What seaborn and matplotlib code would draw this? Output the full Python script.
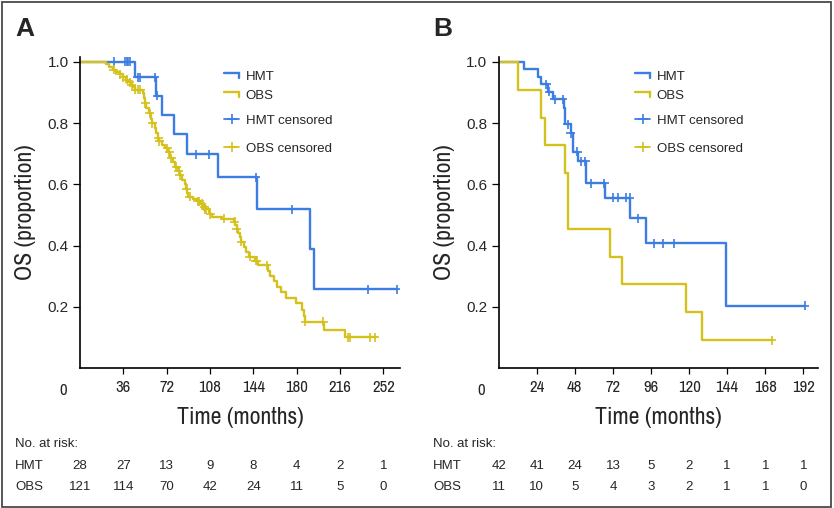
import numpy as np
import pandas as pd
import matplotlib
matplotlib.use("Agg")
import matplotlib.pyplot as plt
import seaborn as sns
from matplotlib import font_manager as fm
from matplotlib.lines import Line2D
from matplotlib.legend_handler import HandlerBase
from matplotlib.patches import Rectangle
from matplotlib.transforms import blended_transform_factory

# ----------------------------
# Data
# ----------------------------

# Panel A - Kaplan-Meier steps (time in months, survival after the drop)
a_hmt_time = [0, 46, 63, 68, 78, 89, 115, 147, 191, 194, 263]
a_hmt_surv = [1.0, 0.95, 0.89, 0.827, 0.764, 0.699, 0.623, 0.519, 0.39, 0.258, 0.258]
a_hmt_cens = [28, 37, 39, 40, 41.5, 48, 50, 62, 64, 96, 107, 146, 176, 239, 263]

a_obs_time = [0, 22, 24, 27, 30, 33, 36, 38, 40, 42, 44, 46, 52, 53, 54, 55, 57, 59,
              60, 62, 63, 65, 66, 68, 71, 73, 75, 77, 79, 81, 83, 85, 87, 88, 89, 90,
              94, 97, 100, 102, 104, 107, 108, 110, 118, 128, 129, 130, 131, 133, 134,
              136, 138, 140, 145, 148, 156, 158, 161, 164, 167, 171, 179, 184, 186,
              187, 203, 220, 246]
a_obs_surv = [1.0, 0.992, 0.984, 0.975, 0.967, 0.959, 0.95, 0.942, 0.934, 0.925, 0.917,
              0.909, 0.9, 0.882, 0.865, 0.848, 0.832, 0.815, 0.8, 0.785, 0.769, 0.753,
              0.74, 0.728, 0.718, 0.705, 0.685, 0.672, 0.658, 0.645, 0.63, 0.615, 0.6,
              0.585, 0.572, 0.56, 0.552, 0.544, 0.536, 0.527, 0.519, 0.511, 0.503,
              0.494, 0.487, 0.478, 0.468, 0.455, 0.442, 0.428, 0.413, 0.396, 0.38,
              0.364, 0.35, 0.335, 0.318, 0.3, 0.284, 0.266, 0.248, 0.228, 0.211, 0.19,
              0.17, 0.151, 0.124, 0.1, 0.1]
a_obs_cens = [28, 33, 36, 39, 41.5, 43, 46, 48, 50, 54, 58, 60, 65, 66, 72.5, 74, 76,
              80, 82, 83, 88.5, 91, 98, 99, 101, 103, 104, 105, 108, 120, 128.5, 130,
              134, 141, 146, 147, 155, 187, 202, 223, 224, 241, 245]

# Panel B
b_hmt_time = [0, 16, 25, 27, 31, 34, 41, 42, 45.5, 47, 50, 55, 67, 83, 93, 143, 193]
b_hmt_surv = [1.0, 0.976, 0.951, 0.927, 0.903, 0.878, 0.851, 0.797, 0.767, 0.707,
              0.676, 0.603, 0.557, 0.489, 0.407, 0.204, 0.204]
b_hmt_cens = [30, 32, 35.5, 40.5, 43.5, 45.5, 49.5, 52, 54.5, 58.5, 66.5, 72, 75, 80,
              82.5, 88, 98, 103.5, 110.5, 193]

b_obs_time = [0, 12, 27, 29, 42, 44, 70, 78, 118, 128, 172]
b_obs_surv = [1.0, 0.909, 0.818, 0.727, 0.636, 0.455, 0.364, 0.273, 0.182, 0.091, 0.091]
b_obs_cens = [172]

# Axis ticks
a_xticks = [36, 72, 108, 144, 180, 216, 252]
b_xticks = [24, 48, 72, 96, 120, 144, 168, 192]
yticks = [0.2, 0.4, 0.6, 0.8, 1.0]

# Number at risk tables
a_risk_time = [0, 36, 72, 108, 144, 180, 216, 252]
a_risk_hmt = [28, 27, 13, 9, 8, 4, 2, 1]
a_risk_obs = [121, 114, 70, 42, 24, 11, 5, 0]

b_risk_time = [0, 24, 48, 72, 96, 120, 144, 168, 192]
b_risk_hmt = [42, 41, 24, 13, 5, 2, 1, 1, 1]
b_risk_obs = [11, 10, 5, 4, 3, 2, 1, 1, 0]

BLUE = "#3b7de3"
YELLOW = "#d5c11c"
palette = {"HMT": BLUE, "OBS": YELLOW}

# ----------------------------
# Style / fonts
# ----------------------------

sns.set_style("ticks")
plt.rcParams["font.family"] = ["Liberation Sans", "DejaVu Sans"]


def pick_narrow():
    # the reference uses a condensed face for axis titles and x ticks
    found = []
    for f in fm.fontManager.ttflist:
        if f.style != "normal" or f.weight not in (400, "normal", "regular", "book"):
            continue
        if "Narrow" in f.name:
            found.append((0, f.fname))
        elif f.stretch in ("condensed", "semi-condensed", "extra-condensed"):
            found.append((1, f.fname))
    if found:
        return fm.FontProperties(fname=sorted(found)[0][1])
    return fm.FontProperties(family="Roboto")


NARROW = pick_narrow()


def narrow(size):
    fp = NARROW.copy()
    fp.set_size(size)
    return fp


class StepHandler(HandlerBase):
    # legend key drawn as a little step
    def create_artists(self, legend, orig_handle, xdescent, ydescent,
                       width, height, fontsize, trans):
        x0, y0 = -xdescent, -ydescent
        xs = [x0, x0 + width, x0 + width]
        ys = [y0 + height * 0.75, y0 + height * 0.75, y0 + height * 0.25]
        ln = Line2D(xs, ys, color=orig_handle.get_color(),
                    lw=orig_handle.get_linewidth(), solid_joinstyle="miter")
        ln.set_transform(trans)
        return [ln]


def steps_df(t, s, arm):
    return pd.DataFrame({"time": t, "surv": s, "arm": arm})


def cens_df(t, s, cens, arm):
    t = np.asarray(t)
    s = np.asarray(s)
    idx = np.searchsorted(t, cens, side="right") - 1
    return pd.DataFrame({"time": cens, "surv": s[idx], "arm": arm})


fig = plt.figure(figsize=(8.34, 5.08), dpi=100)
renderer = fig.canvas.get_renderer()


def fit_size(text, target_px, base=12.0):
    # font size that gives the reference's text width with the chosen face
    t = fig.text(0, 0, text, fontproperties=narrow(base))
    w = t.get_window_extent(renderer).width
    t.remove()
    return base * target_px / w


TITLE_SIZE = fit_size("Time (months)", 126.7)
TICK_SIZE = fit_size("108", 23.0)

W, H = 834.0, 508.0
panels = [
    dict(left=80.0, right=400.0, letter="A", lx=15.0,
         hmt=(a_hmt_time, a_hmt_surv, a_hmt_cens),
         obs=(a_obs_time, a_obs_surv, a_obs_cens),
         xticks=a_xticks, xmax=265.8,
         risk=(a_risk_time, a_risk_hmt, a_risk_obs), leg_x=224.0),
    dict(left=498.6, right=818.3, letter="B", lx=433.0,
         hmt=(b_hmt_time, b_hmt_surv, b_hmt_cens),
         obs=(b_obs_time, b_obs_surv, b_obs_cens),
         xticks=b_xticks, xmax=201.4,
         risk=(b_risk_time, b_risk_hmt, b_risk_obs), leg_x=635.0),
]

top_px, bot_px = 57.0, 368.0

for p in panels:
    ax = fig.add_axes([p["left"] / W, 1 - bot_px / H,
                       (p["right"] - p["left"]) / W, (bot_px - top_px) / H])

    curves = pd.concat([steps_df(p["hmt"][0], p["hmt"][1], "HMT"),
                        steps_df(p["obs"][0], p["obs"][1], "OBS")])
    marks = pd.concat([cens_df(*p["hmt"], "HMT"), cens_df(*p["obs"], "OBS")])

    sns.lineplot(data=curves, x="time", y="surv", hue="arm", palette=palette,
                 estimator=None, drawstyle="steps-post", linewidth=1.7,
                 legend=False, ax=ax)
    sns.scatterplot(data=marks, x="time", y="surv", hue="arm", palette=palette,
                    marker="+", s=42, linewidth=1.2, legend=False, ax=ax,
                    zorder=3)

    ax.set_xlim(0, p["xmax"])
    ax.set_ylim(0, 1.016)
    ax.set_xticks(p["xticks"])
    ax.set_xticklabels([str(v) for v in p["xticks"]])
    ax.set_yticks(yticks)
    ax.set_yticklabels([f"{v:.1f}" for v in yticks])
    ax.set_xlabel("")
    ax.set_ylabel("")
    sns.despine(ax=ax)
    for sp in ["left", "bottom"]:
        ax.spines[sp].set_linewidth(1.2)
        ax.spines[sp].set_color("black")
    ax.tick_params(axis="x", length=4.5, width=0.9, pad=4.5, color="black")
    ax.tick_params(axis="y", length=5, width=0.9, pad=3, labelsize=11,
                   color="black")
    for lbl in ax.get_xticklabels():
        lbl.set_fontproperties(narrow(TICK_SIZE))

    # origin label, axis titles
    fig.text((p["left"] - 17.3) / W, 1 - 390.7 / H, "0", ha="center",
             va="center", fontproperties=narrow(TICK_SIZE))
    ax.text(0.5, (bot_px - 417.0) / (bot_px - top_px), "Time (months)",
            transform=ax.transAxes, ha="center", va="center",
            fontproperties=narrow(TITLE_SIZE))
    ax.text(-54.0 / (p["right"] - p["left"]), 0.5, "OS (proportion)",
            transform=ax.transAxes, rotation=90, ha="center", va="center",
            fontproperties=narrow(TITLE_SIZE))
    fig.text(p["lx"] / W, 1 - 29.5 / H, p["letter"], ha="left", va="center",
             fontsize=19, fontweight="bold")

    # legends
    h_hmt = Line2D([], [], color=BLUE, lw=1.7)
    h_obs = Line2D([], [], color=YELLOW, lw=1.7)
    leg1 = ax.legend([h_hmt, h_obs], ["HMT", "OBS"],
                     handler_map={h_hmt: StepHandler(), h_obs: StepHandler()},
                     loc="upper left", bbox_to_anchor=(p["leg_x"] / W, 1 - 71.0 / H),
                     bbox_transform=fig.transFigure, frameon=False, fontsize=9.5,
                     handlelength=1.15, handletextpad=0.5, labelspacing=0.5,
                     borderpad=0, borderaxespad=0)
    ax.add_artist(leg1)
    c_hmt = Line2D([], [], color=BLUE, lw=1.3, marker="+", markersize=7, mew=1.2)
    c_obs = Line2D([], [], color=YELLOW, lw=1.3, marker="+", markersize=7, mew=1.2)
    ax.legend([c_hmt, c_obs], ["HMT censored", "OBS censored"],
              loc="upper left", bbox_to_anchor=(p["leg_x"] / W, 1 - 114.5 / H),
              bbox_transform=fig.transFigure, frameon=False, fontsize=9.5,
              handlelength=1.15, handletextpad=0.5, labelspacing=1.18,
              numpoints=1, borderpad=0, borderaxespad=0)

    # number at risk
    rt, rh, ro = p["risk"]
    tr = blended_transform_factory(ax.transData, fig.transFigure)
    fig.text(p["lx"] / W, 1 - 444.0 / H, "No. at risk:", ha="left", va="center",
             fontsize=9.5)
    fig.text(p["lx"] / W, 1 - 465.7 / H, "HMT", ha="left", va="center",
             fontsize=9.5)
    fig.text(p["lx"] / W, 1 - 486.7 / H, "OBS", ha="left", va="center",
             fontsize=9.5)
    for t, nh, no in zip(rt, rh, ro):
        ax.text(t, 1 - 465.7 / H, str(nh), transform=tr, ha="center",
                va="center", fontsize=9.5, clip_on=False)
        ax.text(t, 1 - 486.7 / H, str(no), transform=tr, ha="center",
                va="center", fontsize=9.5, clip_on=False)

# outer frame
fig.patches.append(Rectangle((2 / W, 1 - 507 / H), 829 / W, 505 / H,
                             transform=fig.transFigure, fill=False,
                             edgecolor="#4a4a4a", linewidth=1.3))

fig.savefig("out.png", dpi=100)
